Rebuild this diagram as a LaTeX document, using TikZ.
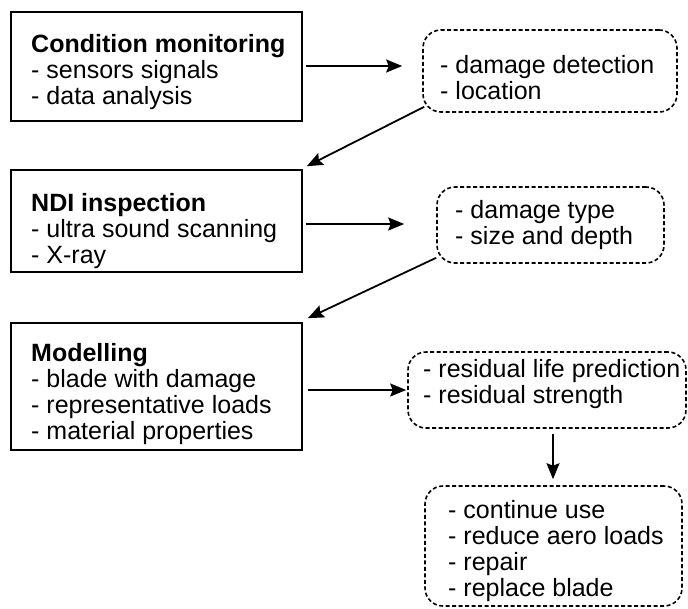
\documentclass[tikz,border=0pt]{standalone}
\usepackage{fontspec}
\setmainfont{Liberation Sans}
\usetikzlibrary{arrows.meta,calc}
\begin{document}
\begin{tikzpicture}[x=1pt,y=1pt,
  solidbox/.style={draw, line width=1.6pt, rectangle, inner sep=0pt},
  dashbox/.style={draw, line width=1.6pt, rectangle, rounded corners=18pt, dash pattern=on 4pt off 2.5pt, inner sep=0pt},
  txt/.style={anchor=west, align=left, inner sep=0pt, font=\fontsize{25}{26}\selectfont},
  arr/.style={line width=1.8pt, -{Stealth[length=16pt,width=13pt,inset=2.5pt]}}
]
\useasboundingbox (0,0) rectangle (688,-608);
% solid boxes
\node[solidbox, minimum width=291pt, minimum height=109pt] (b1) at (156.5,-66.5) {};
\node[solidbox, minimum width=291pt, minimum height=102pt] (b2) at (156.5,-221) {};
\node[solidbox, minimum width=291pt, minimum height=127pt] (b3) at (156.5,-386.5) {};
% dashed boxes
\node[dashbox, minimum width=254pt, minimum height=82pt] (d1) at (550,-71) {};
\node[dashbox, minimum width=227pt, minimum height=76pt] (d2) at (550.5,-225) {};
\node[dashbox, minimum width=278pt, minimum height=76pt] (d3) at (547,-390) {};
\node[dashbox, minimum width=257pt, minimum height=120pt] (d4) at (553.5,-546) {};
% texts
\node[txt] (t1) at (31,-72) {\textbf{Condition monitoring}\\- sensors signals\\- data analysis};
\node[txt] (t2) at (31,-231) {\textbf{NDI inspection}\\- ultra sound scanning\\- X-ray};
\node[txt] (t3) at (31,-394.5) {\textbf{Modelling}\\- blade with damage\\- representative loads\\- material properties};
\node[txt] (u1) at (440,-77.5) {- damage detection\\- location};
\node[txt] (u2) at (455,-225.5) {- damage type\\- size and depth};
\node[txt] (u3) at (423,-384.5) {- residual life prediction\\- residual strength};
\node[txt] (u4) at (448,-551) {- continue use\\- reduce aero loads\\- repair\\- replace blade};
% connectors
\draw[arr, shorten <=3pt, shorten >=20pt] ($(b1.east)+(0,0.5)$) -- ($(b1.east -| d1.west)+(0,0.5)$);
\draw[arr, shorten <=3pt, shorten >=32pt] ($(b2.east)+(0,-3)$) -- ($(b2.east -| d2.west)+(0,-3)$);
\draw[arr, shorten <=5pt, shorten >=1pt] (d3.west -| b3.east) -- (d3.west);
\draw[arr] ($(d1.south west)+(2,6)$) -- ($(b2.north east)+(4,3)$);
\draw[arr] ($(d2.south west)+(0,6)$) -- ($(b3.north east)+(5,4)$);
\draw[arr, shorten <=5pt, shorten >=6pt] ($(d4.north |- d3.south)+(-0.5,0)$) -- ($(d4.north)+(-0.5,0)$);
\end{tikzpicture}
\end{document}
